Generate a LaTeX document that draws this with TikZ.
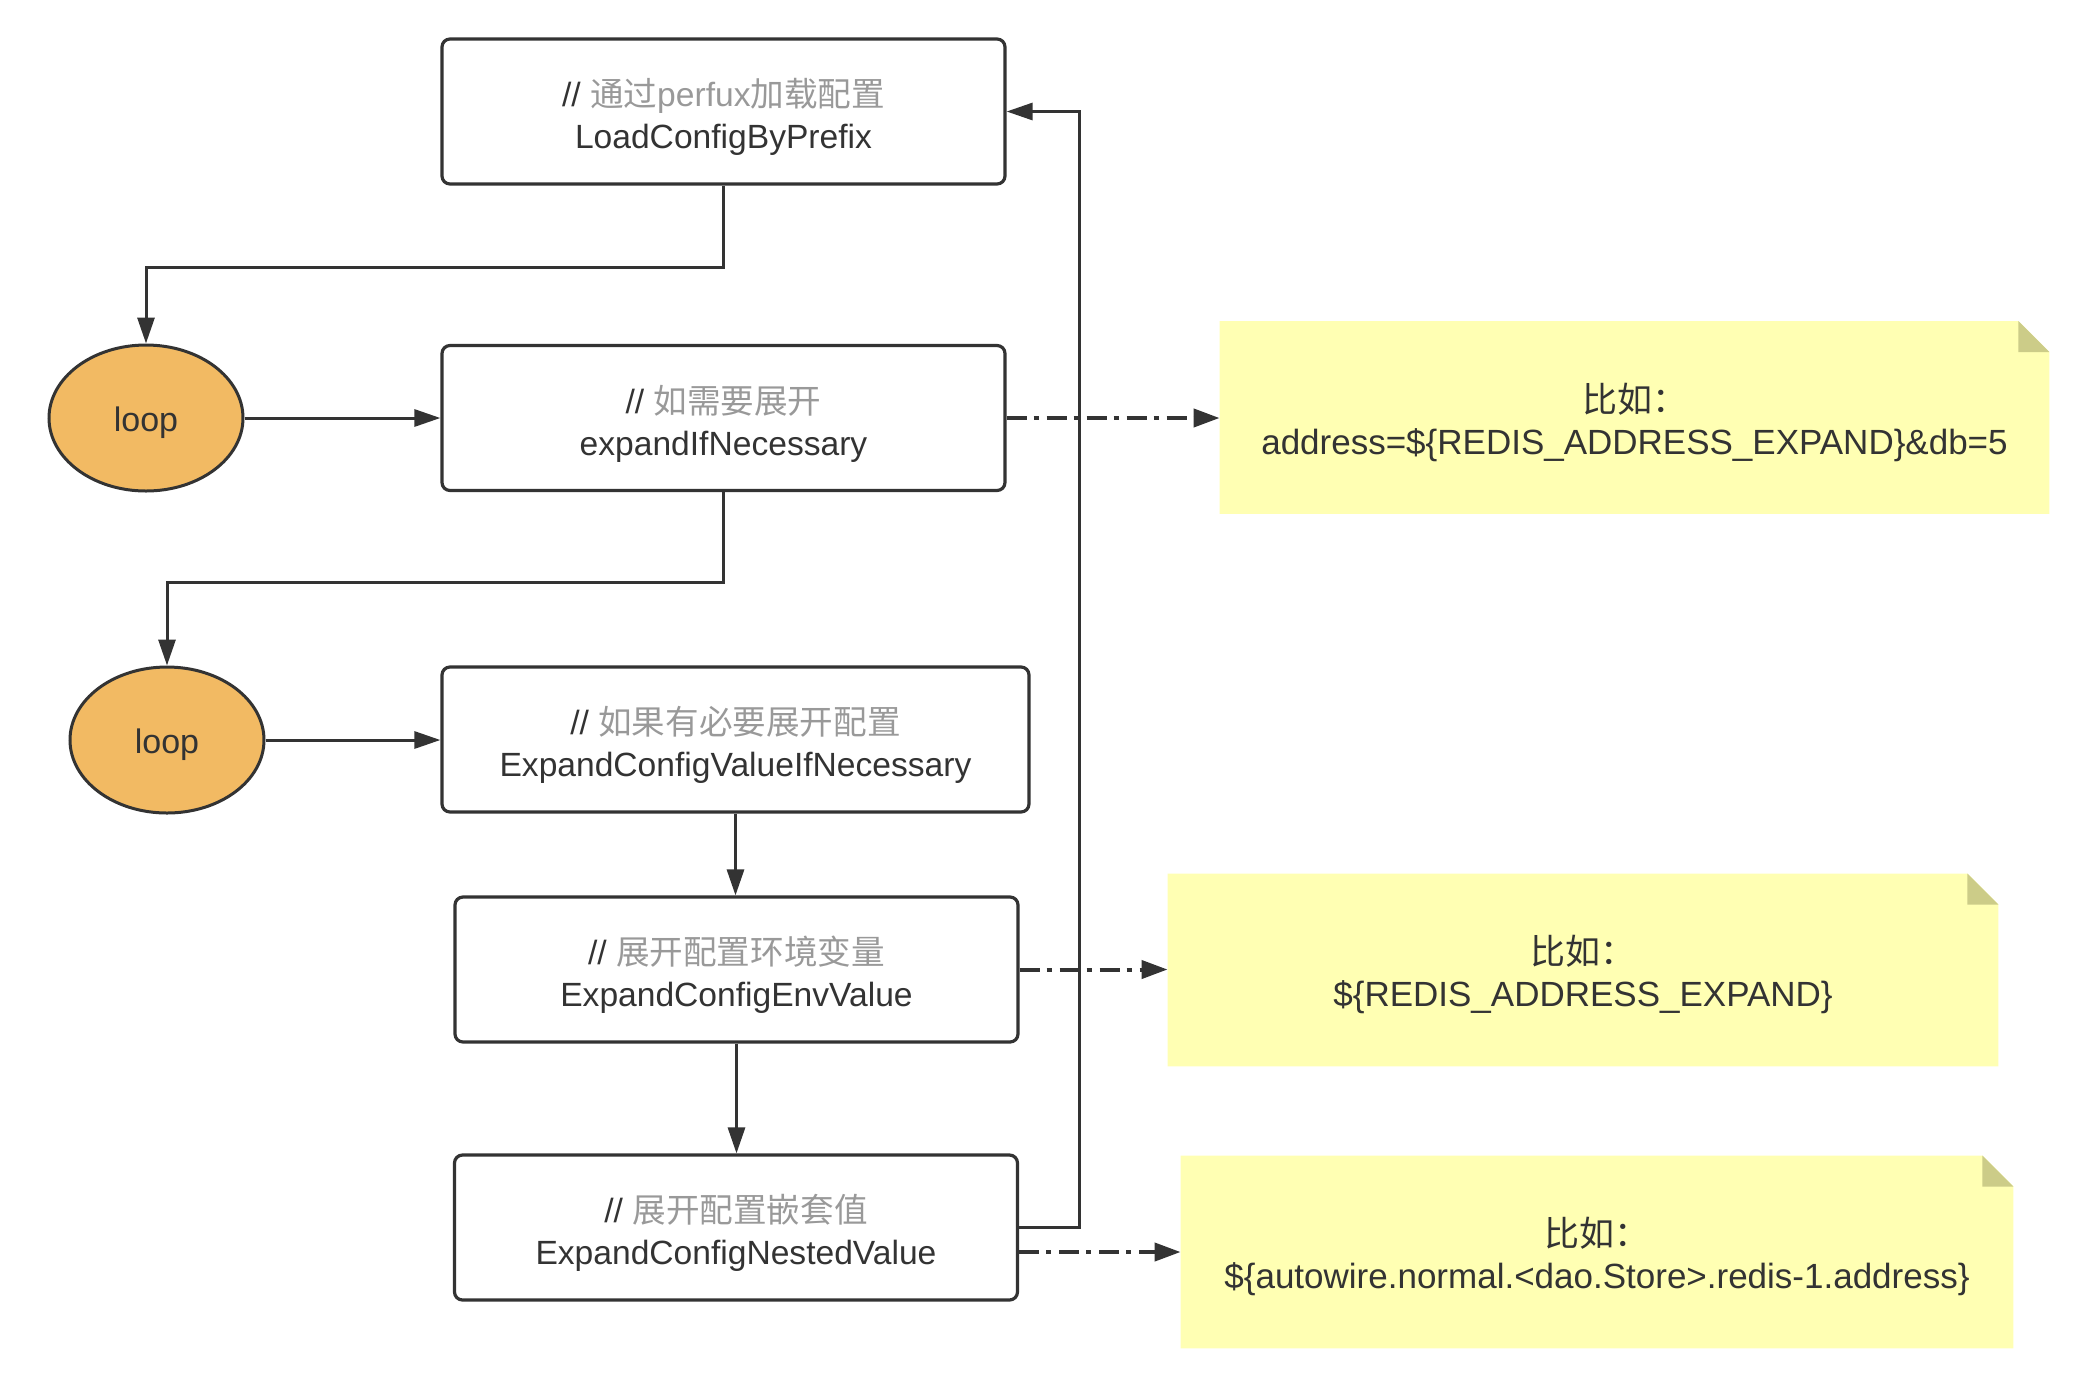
\documentclass[tikz,border=0pt]{standalone}
\usepackage{fontspec}
\setmainfont{Liberation Sans}
\newfontfamily\cjk{Noto Sans CJK SC}
\usetikzlibrary{arrows.meta,shapes.geometric,backgrounds}
\definecolor{ink}{HTML}{333333}
\definecolor{loopfill}{HTML}{F2BA63}
\definecolor{notefill}{HTML}{FFFFB3}
\definecolor{foldfill}{HTML}{CCCC88}
\definecolor{cmt}{HTML}{999999}
\newcommand{\cmnt}[1]{\rule{0pt}{19.5pt}{\color{ink}//}\ {\color{cmt}#1}}
\newcommand{\notehead}{\rule{0pt}{19.5pt}{\cjk 比如：}}
\begin{document}
\begin{tikzpicture}[x=0.5pt,y=-0.5pt,
  txt/.style={align=center, font=\fontsize{16.8}{21}\selectfont, text=ink},
  box/.style={txt, draw=ink, line width=1.6pt, rounded corners=4pt, minimum height=72.5pt, minimum width=281.5pt, inner sep=0pt},
  loopnode/.style={ellipse, draw=ink, line width=1.5pt, fill=loopfill, minimum width=97pt, minimum height=73pt, inner sep=0pt, font=\fontsize{17}{20}\selectfont, text=ink},
  notebox/.style={txt, font=\fontsize{17.5}{21}\selectfont, minimum width=#1, minimum height=96pt, inner sep=0pt},
  flow/.style={draw=ink, line width=1.5pt, -{Triangle[length=13pt,width=8.5pt]}},
  notelink/.style={draw=ink, line width=2pt, dash pattern=on 10pt off 3.5pt on 2.5pt off 4pt, -{Triangle[length=13pt,width=9pt]}},
]
\useasboundingbox (0,0) rectangle (2100,1378);

\node[box] (b1) at (723.5,111.5) {\cmnt{{\cjk 通过}perfux{\cjk 加载配置}}\\LoadConfigByPrefix};
\node[box] (b2) at (723.5,418) {\cmnt{{\cjk 如需要展开}}\\expandIfNecessary};
\node[box, minimum width=293.5pt] (b3) at (735.5,739.5) {\cmnt{{\cjk 如果有必要展开配置}}\\ExpandConfigValueIfNecessary};
\node[box] (b4) at (736.5,969.5) {\cmnt{{\cjk 展开配置环境变量}}\\ExpandConfigEnvValue};
\node[box] (b5) at (736,1227.5) {\cmnt{{\cjk 展开配置嵌套值}}\\ExpandConfigNestedValue};

\node[loopnode] (l1) at (146,418) {\rule{0pt}{17.5pt}loop};
\node[loopnode] (l2) at (167,740) {\rule{0pt}{17.5pt}loop};

\node[notebox=414.5pt] (n1) at (1634.5,417.5) {\notehead\\address=\$\{REDIS\_ADDRESS\_EXPAND\}\&db=5};
\node[notebox=415pt] (n2) at (1583,970) {\notehead\\\$\{REDIS\_ADDRESS\_EXPAND\}};
\node[notebox=416pt] (n3) at (1597,1252) {\notehead\\\$\{autowire.normal.<dao.Store>.redis-1.address\}};

\begin{scope}[on background layer]
\foreach \n in {n1,n2,n3}{
  \fill[notefill] (\n.south west) -- (\n.north west) -- ([xshift=-15.5pt]\n.north east) -- ([yshift=-15.5pt]\n.north east) -- (\n.south east) -- cycle;
  \fill[foldfill] ([xshift=-15.5pt]\n.north east) -- ([xshift=-15.5pt,yshift=-15.5pt]\n.north east) -- ([yshift=-15.5pt]\n.north east) -- cycle;
}
\end{scope}

\draw[flow] (b1.south) -- ++(0,82) -| (l1.north);
\draw[flow] (l1.east) -- (l1.east -| b2.west);
\draw[flow] (b2.south) -- ++(0,90) -| (l2.north);
\draw[flow] (l2.east) -- (l2.east -| b3.west);
\draw[flow] (b3.south) -- (b3.south |- b4.north);
\draw[flow] (b4.south) -- (b4.south |- b5.north);
\draw[flow] (b5.east) -- ++(60,0) |- (b1.east);

\draw[notelink] (b2.east) -- (b2.east -| n1.west);
\draw[notelink] (b4.east) -- (b4.east -| n2.west);
\draw[notelink] (n3.west -| b5.east) -- (n3.west);
\end{tikzpicture}
\end{document}
